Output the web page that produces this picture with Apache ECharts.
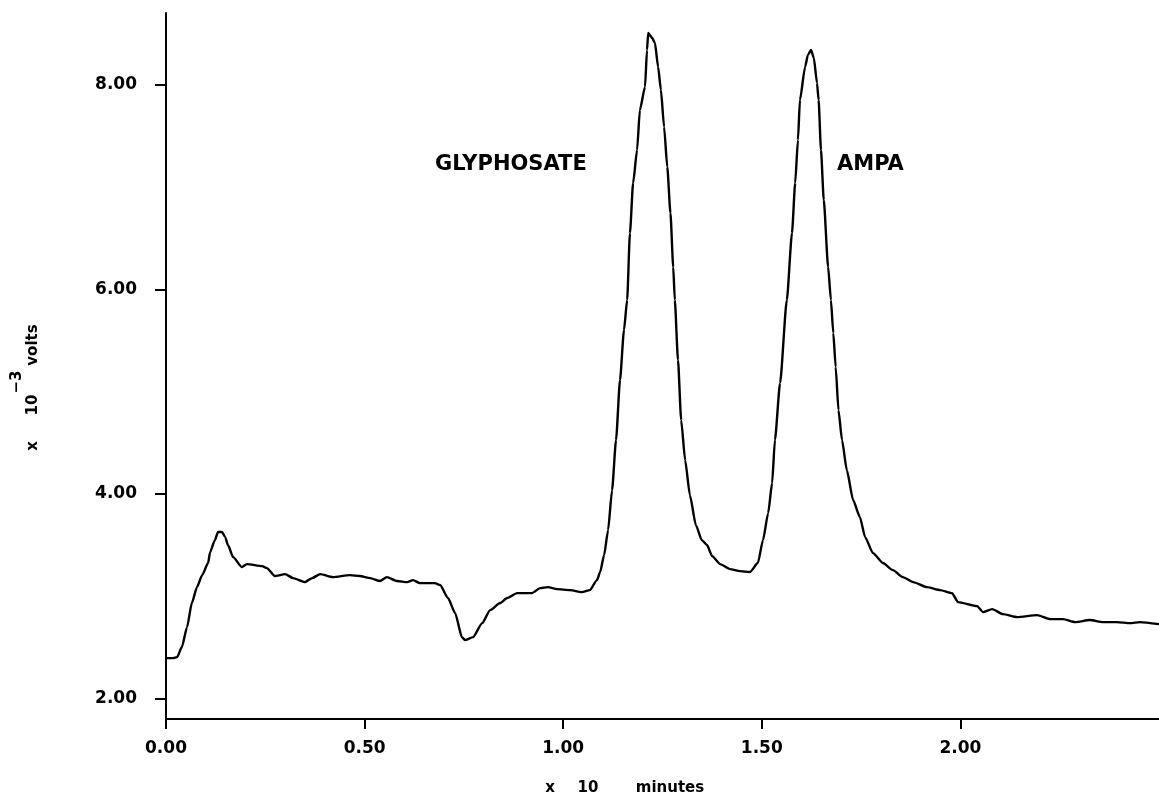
<!DOCTYPE html>
<html>
<head>
<meta charset="utf-8">
<script src="https://cdn.jsdelivr.net/npm/echarts@6/dist/echarts.min.js"></script>
<style>
  html, body { margin: 0; padding: 0; background: #fff; }
  #main { width: 1159px; height: 797px; }
</style>
</head>
<body>
<div id="main"></div>
<script>
// retention time, x 10 minutes
var times = [
  0.000, 0.018, 0.028, 0.040, 0.053, 0.065, 0.078, 0.091, 0.106, 0.111,
  0.123, 0.131, 0.141, 0.149, 0.156, 0.169, 0.191, 0.204, 0.242, 0.254,
  0.274, 0.300, 0.320, 0.350, 0.368, 0.388, 0.420, 0.463, 0.488, 0.514,
  0.539, 0.556, 0.582, 0.607, 0.622, 0.639, 0.677, 0.690, 0.710, 0.728,
  0.745, 0.753, 0.773, 0.796, 0.816, 0.841, 0.859, 0.884, 0.921, 0.942,
  0.962, 0.984, 1.017, 1.047, 1.067, 1.085, 1.093, 1.103, 1.113, 1.123,
  1.133, 1.143, 1.153, 1.161, 1.168, 1.176, 1.186, 1.193, 1.206, 1.211,
  1.214, 1.224, 1.231, 1.239, 1.246, 1.254, 1.262, 1.270, 1.277, 1.281,
  1.289, 1.297, 1.307, 1.319, 1.334, 1.349, 1.362, 1.375, 1.395, 1.420,
  1.445, 1.470, 1.490, 1.503, 1.516, 1.526, 1.533, 1.546, 1.563, 1.576,
  1.584, 1.591, 1.596, 1.609, 1.616, 1.624, 1.631, 1.639, 1.643, 1.649,
  1.656, 1.667, 1.674, 1.680, 1.686, 1.693, 1.702, 1.714, 1.730, 1.747,
  1.760, 1.780, 1.805, 1.830, 1.855, 1.881, 1.916, 1.949, 1.979, 1.994,
  2.042, 2.057, 2.080, 2.107, 2.143, 2.193, 2.226, 2.258, 2.289, 2.326,
  2.359, 2.394, 2.427, 2.452, 2.500
];
// detector signal, x 10^-3 volts
var volts = [
  2.395, 2.395, 2.405, 2.503, 2.698, 2.933, 3.089, 3.206, 3.324, 3.431,
  3.548, 3.627, 3.627, 3.578, 3.500, 3.382, 3.285, 3.314, 3.294, 3.275,
  3.197, 3.216, 3.177, 3.138, 3.177, 3.216, 3.187, 3.206, 3.197, 3.177,
  3.148, 3.187, 3.148, 3.138, 3.157, 3.128, 3.128, 3.109, 2.982, 2.835,
  2.600, 2.571, 2.600, 2.737, 2.864, 2.933, 2.982, 3.030, 3.030, 3.079,
  3.089, 3.069, 3.060, 3.040, 3.060, 3.157, 3.236, 3.402, 3.646, 4.037,
  4.526, 5.112, 5.601, 5.895, 6.549, 7.038, 7.361, 7.752, 7.977, 8.338,
  8.504, 8.456, 8.407, 8.172, 7.947, 7.586, 7.195, 6.745, 6.217, 5.895,
  5.308, 4.721, 4.330, 3.988, 3.695, 3.548, 3.500, 3.392, 3.314, 3.265,
  3.245, 3.236, 3.324, 3.548, 3.812, 4.106, 4.526, 5.083, 5.895, 6.549,
  7.038, 7.459, 7.850, 8.172, 8.289, 8.338, 8.260, 8.016, 7.850, 7.361,
  6.872, 6.217, 5.895, 5.572, 5.240, 4.819, 4.526, 4.233, 3.939, 3.773,
  3.578, 3.421, 3.324, 3.255, 3.187, 3.138, 3.089, 3.060, 3.030, 2.942,
  2.903, 2.845, 2.874, 2.825, 2.796, 2.815, 2.776, 2.776, 2.747, 2.767,
  2.747, 2.747, 2.737, 2.747, 2.727
];
var xTicks = [0, 0.5, 1, 1.5, 2];
var yTicks = [2, 4, 6, 8];
var peakNames = ["GLYPHOSATE", "AMPA"];

var myChart = echarts.init(document.getElementById("main"));

var font = "DejaVu Sans";
var nameFont = "bold 15px 'DejaVu Sans'";
var peakFont = "bold 21px 'DejaVu Sans'";

var option = {
  animation: false,
  backgroundColor: "#fff",
  grid: { left: 166, right: 0, top: 13, bottom: 78 },
  xAxis: {
    type: "value",
    min: 0,
    max: 2.5,
    axisLine: { show: true, onZero: false, lineStyle: { color: "#000", width: 2 } },
    axisTick: { show: true, customValues: xTicks, length: 10, lineStyle: { color: "#000", width: 2 } },
    axisLabel: {
      customValues: xTicks,
      formatter: function (v) { return v.toFixed(2); },
      margin: 21,
      color: "#000",
      fontFamily: font,
      fontWeight: "bold",
      fontSize: 17
    },
    splitLine: { show: false }
  },
  yAxis: {
    type: "value",
    min: 1.8,
    max: 8.7,
    axisLine: { show: true, onZero: false, lineStyle: { color: "#000", width: 2 } },
    axisTick: { show: true, customValues: yTicks, length: 11, lineStyle: { color: "#000", width: 2 } },
    axisLabel: {
      customValues: yTicks,
      formatter: function (v) { return v.toFixed(2); },
      margin: 29,
      color: "#000",
      fontFamily: font,
      fontWeight: "bold",
      fontSize: 17
    },
    splitLine: { show: false }
  },
  series: [
    {
      type: "line",
      data: times.map(function (t, i) { return [t, volts[i]]; }),
      showSymbol: false,
      symbol: "none",
      smooth: 0.2,
      smoothMonotone: "x",
      lineStyle: { color: "#000", width: 2.4 }
    }
  ],
  graphic: [
    // peak labels
    { type: "text", x: 435, y: 165, style: { text: peakNames[0], font: peakFont, fill: "#000", verticalAlign: "middle" } },
    { type: "text", x: 837, y: 165, style: { text: peakNames[1], font: peakFont, fill: "#000", verticalAlign: "middle" } },
    // x axis name
    { type: "text", x: 550, y: 788, style: { text: "x", font: nameFont, fill: "#000", align: "center", verticalAlign: "middle" } },
    { type: "text", x: 588, y: 788, style: { text: "10", font: nameFont, fill: "#000", align: "center", verticalAlign: "middle" } },
    { type: "text", x: 670, y: 788, style: { text: "minutes", font: nameFont, fill: "#000", align: "center", verticalAlign: "middle" } },
    // y axis name (rotated)
    { type: "text", x: 33, y: 446, rotation: Math.PI / 2, style: { text: "x", font: nameFont, fill: "#000", align: "center", verticalAlign: "middle" } },
    { type: "text", x: 33, y: 405, rotation: Math.PI / 2, style: { text: "10", font: nameFont, fill: "#000", align: "center", verticalAlign: "middle" } },
    { type: "text", x: 17, y: 382, rotation: Math.PI / 2, style: { text: "−3", font: nameFont, fill: "#000", align: "center", verticalAlign: "middle" } },
    { type: "text", x: 33, y: 345, rotation: Math.PI / 2, style: { text: "volts", font: nameFont, fill: "#000", align: "center", verticalAlign: "middle" } }
  ]
};

myChart.setOption(option);
</script>
</body>
</html>
